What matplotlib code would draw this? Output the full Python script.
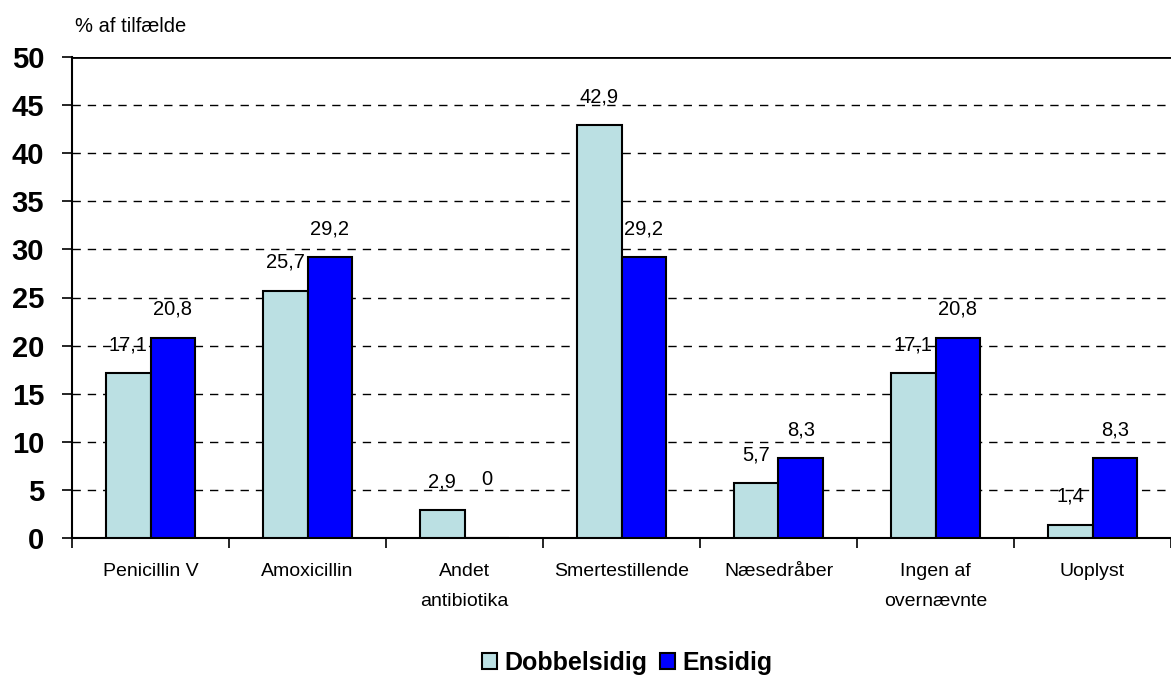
import matplotlib
matplotlib.use('Agg')
import matplotlib.pyplot as plt
import numpy as np

plt.rcParams['font.family'] = ['Liberation Sans', 'DejaVu Sans']

# Data
categories = ['Penicillin V', 'Amoxicillin', 'Andet\nantibiotika', 'Smertestillende',
              'Næsedråber', 'Ingen af\novernævnte', 'Uoplyst']
dobbelsidig = [17.1, 25.7, 2.9, 42.9, 5.7, 17.1, 1.4]
ensidig = [20.8, 29.2, 0, 29.2, 8.3, 20.8, 8.3]
series_names = ['Dobbelsidig', 'Ensidig']
colors = ['#BBE0E3', '#0000FF']

fig = plt.figure(figsize=(11.71, 6.77), dpi=100)
ax = fig.add_axes([72 / 1171, 1 - 538 / 677, 1 - 72 / 1171, (538 - 57) / 677])

x = np.arange(len(categories))
width = 0.283

bars = []
for i, (vals, name, col) in enumerate(zip([dobbelsidig, ensidig], series_names, colors)):
    offs = (i - 0.5) * width
    b = ax.bar(x + offs, vals, width, label=name, color=col,
               edgecolor='black', linewidth=1.5, zorder=3)
    bars.append(b)
    for xi, v in zip(x, vals):
        dy = 42 if v == 0 else 20.5
        ax.annotate(f'{v:g}'.replace('.', ','), (xi + offs, v),
                    xytext=(0, dy), textcoords='offset points',
                    ha='center', va='center', fontsize=14.5, zorder=2)

ax.set_xlim(-0.5, 6.42)
ax.set_ylim(0, 50)
ax.set_yticks(np.arange(0, 51, 5))
ax.tick_params(axis='y', labelsize=21, direction='out', length=7, width=1.2, pad=13)
for lab in ax.get_yticklabels():
    lab.set_fontweight('bold')

ax.set_xticks(x)
ax.set_xticklabels(categories, fontsize=14, linespacing=2.0)
ax.set_xticks(np.arange(-0.5, 7, 1), minor=True)
ax.tick_params(axis='x', which='major', length=0, pad=18)
ax.tick_params(axis='x', which='minor', direction='out', length=7, width=1.2)

for y in range(5, 50, 5):
    ax.axhline(y, color='black', linestyle=(0, (6, 5)), linewidth=1, zorder=1)
ax.axhline(50, color='black', linewidth=2, zorder=1)

ax.spines['top'].set_visible(False)
ax.spines['right'].set_visible(False)
ax.spines['left'].set_linewidth(1.5)
ax.spines['bottom'].set_linewidth(1.5)

fig.text(75 / 1171, 1 - 26 / 677, '% af tilfælde', fontsize=14.5, ha='left', va='center')

fig.legend(handles=bars, labels=series_names, loc='center',
           bbox_to_anchor=(627 / 1171, 1 - 663 / 677), ncol=2, frameon=False,
           handlelength=0.6, handleheight=0.6, handletextpad=0.3, columnspacing=0.5,
           prop={'size': 18, 'weight': 'bold'})

plt.savefig('out.png', dpi=100)
